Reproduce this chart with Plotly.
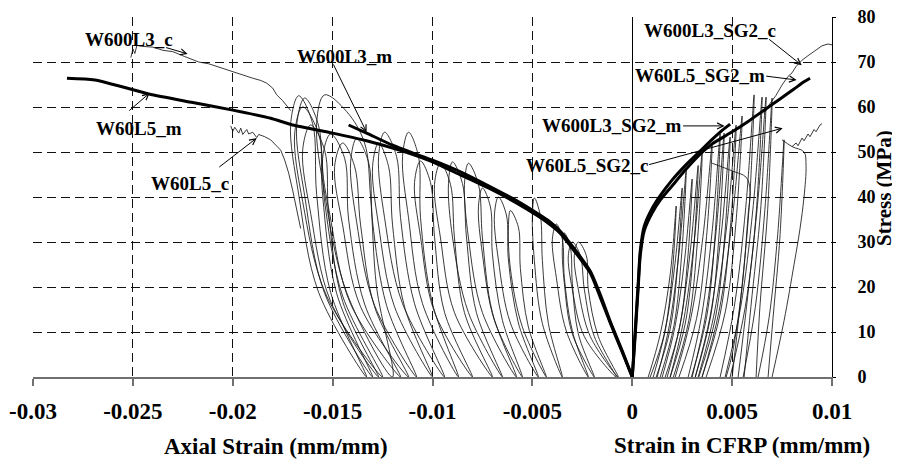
import plotly.graph_objects as go

# ---------------- data ----------------
X_TICKS = [-0.03, -0.025, -0.02, -0.015, -0.01, -0.005, 0, 0.005, 0.01]
X_TICK_TEXT = ["-0.03", "-0.025", "-0.02", "-0.015", "-0.01", "-0.005", "0", "0.005", "0.01"]
Y_TICKS = [0, 10, 20, 30, 40, 50, 60, 70, 80]

# thick monotonic curves
w60l5_m_x = [-0.0283, -0.0269, -0.0242, -0.0220, -0.0200, -0.0181, -0.0170, -0.0150, -0.0133, -0.0115,
             -0.0100, -0.0086, -0.0072, -0.0058, -0.0047, -0.0041, -0.0036, -0.0029, -0.0021, -0.0016,
             -0.0011, -0.0005, 0.0]
w60l5_m_y = [66.4, 66.0, 62.9, 61.0, 59.3, 57.5, 56.0, 54.2, 52.5, 50.2,
             47.8, 44.9, 42.0, 38.7, 35.7, 33.8, 31.9, 28.0, 23.1, 17.7,
             12.0, 5.5, 0.0]
w600l3_m_x = [-0.0142, -0.0133, -0.0120, -0.0110, -0.0100, -0.0086, -0.0072, -0.0058, -0.0047, -0.0041,
              -0.0036, -0.0029, -0.0021, -0.0016, -0.0011, -0.0005, 0.0]
w600l3_m_y = [56.0, 54.2, 51.5, 49.8, 48.2, 45.6, 42.5, 39.2, 36.2, 34.4,
              32.4, 28.5, 23.5, 18.3, 12.3, 5.8, 0.0]
w60l5_sg2_m_x = [0.0, 0.0001, 0.0002, 0.0003, 0.0004, 0.0006, 0.0010, 0.0014, 0.0020, 0.0027,
                 0.0034, 0.0040, 0.0049, 0.0058, 0.0066, 0.0074, 0.0081, 0.0086, 0.0089]
w60l5_sg2_m_y = [0.0, 6.0, 13.0, 20.0, 27.0, 32.5, 36.5, 39.3, 42.5, 46.2,
                 49.5, 51.8, 54.2, 56.8, 59.3, 61.8, 64.0, 65.6, 66.4]
w600l3_sg2_m_x = [0.0, 0.0001, 0.0002, 0.0003, 0.0004, 0.0006, 0.0010, 0.0014, 0.0020, 0.0027,
                  0.0034, 0.0040, 0.0045, 0.0049]
w600l3_sg2_m_y = [0.0, 7.0, 14.0, 21.0, 28.0, 33.5, 37.5, 40.3, 43.8, 47.2,
                  50.2, 52.8, 54.8, 56.2]

# thin (noisy) cyclic envelopes
w600l3_c_x = [-0.0251, -0.0250, -0.0249, -0.0248, -0.0246, -0.0240, -0.0235, -0.0230, -0.0224, -0.0217,
              -0.0212, -0.0208, -0.0204, -0.0200, -0.0195, -0.0190, -0.0186, -0.0183, -0.0180, -0.0178,
              -0.0175, -0.0173, -0.0171]
w600l3_c_y = [71.0, 72.9, 71.9, 73.7, 73.5, 73.3, 72.6, 72.3, 71.2, 70.0,
              69.6, 69.0, 68.5, 67.8, 67.2, 66.4, 65.9, 65.3, 64.2, 62.7,
              61.4, 60.4, 59.2]
w60l5_c_x = [-0.0201, -0.0200, -0.0199, -0.0197, -0.0196, -0.0195, -0.0193, -0.0192, -0.0190, -0.0188,
             -0.0187, -0.0184, -0.0181, -0.0178, -0.0176, -0.0174, -0.0172, -0.0170, -0.0168, -0.0166]
w60l5_c_y = [55.8, 54.6, 55.5, 54.2, 55.3, 53.9, 55.0, 54.0, 54.4, 53.2,
             53.9, 53.4, 52.7, 51.3, 50.4, 48.2, 45.3, 41.5, 37.5, 33.0]
w600l3_sg2_c_x = [0.0066, 0.0069, 0.0072, 0.0075, 0.0078, 0.0080, 0.0082, 0.0085, 0.0088, 0.0092,
                  0.0095, 0.0098, 0.0100]
w600l3_sg2_c_y = [58.5, 60.8, 62.6, 64.9, 66.8, 67.6, 69.0, 70.4, 71.4, 72.7,
                  73.6, 74.0, 73.8]
w60l5_sg2_c_x = [0.0080, 0.0082, 0.0083, 0.0085, 0.0086, 0.0088, 0.0089, 0.0091, 0.0092, 0.0094, 0.0095]
w60l5_sg2_c_y = [51.2, 52.0, 51.4, 53.1, 52.5, 54.0, 53.4, 55.0, 54.5, 56.0, 56.3]

# axial-strain unloading / reloading loops (left half)
left_loops_x = [
    [-0.0133, -0.0157, -0.0167, -0.0171, -0.0167, -0.0160, -0.0158, -0.0151, -0.0133],
    [-0.0130, -0.0154, -0.0164, -0.0168, -0.0164, -0.0157, -0.0155, -0.0148, -0.0130],
    [-0.0127, -0.0151, -0.0161, -0.0165, -0.0161, -0.0154, -0.0152, -0.0145, -0.0127],
    [-0.0120, -0.0143, -0.0154, -0.0158, -0.0154, -0.0143, -0.0134, -0.0131, -0.0128, -0.0120],
    [-0.0116, -0.0141, -0.0151, -0.0155, -0.0151, -0.0144, -0.0142, -0.0134, -0.0116],
    [-0.0108, -0.0129, -0.0138, -0.0141, -0.0138, -0.0132, -0.0130, -0.0123, -0.0108],
    [-0.0100, -0.0119, -0.0127, -0.0130, -0.0127, -0.0122, -0.0120, -0.0114, -0.0100],
    [-0.0094, -0.0115, -0.0124, -0.0127, -0.0124, -0.0118, -0.0116, -0.0109, -0.0094],
    [-0.0087, -0.0105, -0.0112, -0.0115, -0.0112, -0.0107, -0.0106, -0.0100, -0.0087],
    [-0.0080, -0.0099, -0.0106, -0.0109, -0.0106, -0.0101, -0.0099, -0.0094, -0.0080],
    [-0.0070, -0.0089, -0.0096, -0.0099, -0.0096, -0.0091, -0.0089, -0.0084, -0.0070],
    [-0.0065, -0.0082, -0.0090, -0.0092, -0.0090, -0.0085, -0.0083, -0.0078, -0.0065],
    [-0.0058, -0.0075, -0.0082, -0.0084, -0.0082, -0.0077, -0.0075, -0.0070, -0.0058],
    [-0.0047, -0.0061, -0.0067, -0.0069, -0.0067, -0.0063, -0.0062, -0.0057, -0.0047],
    [-0.0043, -0.0055, -0.0061, -0.0062, -0.0061, -0.0057, -0.0056, -0.0052, -0.0043],
    [-0.0035, -0.0045, -0.0049, -0.0050, -0.0049, -0.0046, -0.0045, -0.0042, -0.0035],
    [-0.0022, -0.0033, -0.0038, -0.0040, -0.0038, -0.0035, -0.0034, -0.0030, -0.0022],
    [-0.0019, -0.0030, -0.0034, -0.0035, -0.0034, -0.0031, -0.0030, -0.0027, -0.0019],
    [-0.0008, -0.0024, -0.0030, -0.0032, -0.0030, -0.0026, -0.0024, -0.0019, -0.0008],
    [-0.0125, -0.0153, -0.0165, -0.0169, -0.0165, -0.0157, -0.0154, -0.0145, -0.0125],
    [-0.0112, -0.0136, -0.0145, -0.0149, -0.0145, -0.0139, -0.0136, -0.0129, -0.0112],
    [-0.0055, -0.0069, -0.0075, -0.0077, -0.0075, -0.0071, -0.0070, -0.0065, -0.0055],
    [-0.0007, -0.0021, -0.0027, -0.0029, -0.0027, -0.0023, -0.0022, -0.0017, -0.0007],
]
left_loops_y = [
    [0, 18.8, 40.6, 56.3, 62.5, 56.3, 40.6, 18.8, 0],
    [0, 18.6, 40.3, 55.8, 62.0, 55.8, 40.3, 18.6, 0],
    [0, 16.8, 36.4, 50.4, 56.0, 50.4, 36.4, 16.8, 0],
    [0, 18.8, 40.8, 56.5, 62.7, 59.0, 52.0, 40.0, 20.0, 0],
    [0, 16.2, 35.1, 48.6, 54.0, 48.6, 35.1, 16.2, 0],
    [0, 15.9, 34.5, 47.7, 53.0, 47.7, 34.5, 15.9, 0],
    [0, 15.6, 33.8, 46.8, 52.0, 46.8, 33.8, 15.6, 0],
    [0, 16.3, 35.4, 49.0, 54.4, 49.0, 35.4, 16.3, 0],
    [0, 16.3, 35.4, 49.0, 54.4, 49.0, 35.4, 16.3, 0],
    [0, 14.4, 31.2, 43.2, 48.0, 43.2, 31.2, 14.4, 0],
    [0, 14.3, 30.9, 42.8, 47.5, 42.8, 30.9, 14.3, 0],
    [0, 14.3, 31.1, 43.0, 47.8, 43.0, 31.1, 14.3, 0],
    [0, 14.3, 30.9, 42.8, 47.5, 42.8, 30.9, 14.3, 0],
    [0, 12.0, 26.0, 36.0, 40.0, 36.0, 26.0, 12.0, 0],
    [0, 11.1, 24.1, 33.3, 37.0, 33.3, 24.1, 11.1, 0],
    [0, 11.9, 25.9, 35.8, 39.8, 35.8, 25.9, 11.9, 0],
    [0, 10.2, 22.1, 30.6, 34.0, 30.6, 22.1, 10.2, 0],
    [0, 9.6, 20.8, 28.8, 32.0, 28.8, 20.8, 9.6, 0],
    [0, 9.0, 19.5, 27.0, 30.0, 27.0, 19.5, 9.0, 0],
    [0, 18.0, 39.0, 54.0, 60.0, 54.0, 39.0, 18.0, 0],
    [0, 15.6, 33.8, 46.8, 52.0, 46.8, 33.8, 15.6, 0],
    [0, 12.6, 27.3, 37.8, 42.0, 37.8, 27.3, 12.6, 0],
    [0, 9.0, 19.5, 27.0, 30.0, 27.0, 19.5, 9.0, 0],
]

# CFRP-strain loops (right half)
right_loops_x = [
    [0.0008, 0.0014, 0.0019, 0.0022, 0.0020, 0.0016, 0.0009],
    [0.00105, 0.00166, 0.00214, 0.0025, 0.00228, 0.00189, 0.0012],
    [0.00125, 0.00186, 0.00234, 0.0027, 0.00248, 0.00209, 0.0014],
    [0.0015, 0.00213, 0.00263, 0.0030, 0.00278, 0.00237, 0.00165],
    [0.00175, 0.0024, 0.00291, 0.0033, 0.00307, 0.00265, 0.0019],
    [0.0019, 0.00257, 0.0031, 0.0035, 0.00326, 0.00283, 0.00206],
    [0.00215, 0.00293, 0.00354, 0.0040, 0.00372, 0.00322, 0.00234],
    [0.0028, 0.00347, 0.0040, 0.0044, 0.00416, 0.00373, 0.00296],
    [0.0030, 0.00367, 0.0042, 0.0046, 0.00436, 0.00393, 0.00316],
    [0.00315, 0.00389, 0.00446, 0.0049, 0.00464, 0.00417, 0.00333],
    [0.0033, 0.0041, 0.00473, 0.0052, 0.00492, 0.0044, 0.00349],
    [0.0035, 0.00434, 0.0050, 0.0055, 0.0052, 0.00466, 0.0037],
    [0.0044, 0.00511, 0.00568, 0.0061, 0.00585, 0.00539, 0.0050],
    [0.00465, 0.00543, 0.00604, 0.0065, 0.00622, 0.00572, 0.0053],
    [0.0049, 0.00566, 0.00625, 0.0067, 0.00643, 0.00594, 0.0056],
    [0.00555, 0.00616, 0.00664, 0.0070, 0.00678, 0.00639, 0.0062],
    [0.0063, 0.00685, 0.00728, 0.0076, 0.0074, 0.00705, 0.0068],
    [0.0070, 0.0076, 0.0081, 0.0084, 0.0086, 0.0087, 0.0086, 0.0080, 0.0075],
    [0.0040, 0.0050, 0.0057, 0.0059, 0.0058, 0.0055, 0.0050, 0.0047],
]
right_loops_y = [
    [0, 9.5, 22.8, 38.0, 22.8, 9.5, 0],
    [0, 10.5, 25.2, 42.0, 25.2, 10.5, 0],
    [0, 11.5, 27.6, 46.0, 27.6, 11.5, 0],
    [0, 11.0, 26.4, 44.0, 26.4, 11.0, 0],
    [0, 11.8, 28.2, 47.0, 28.2, 11.8, 0],
    [0, 12.5, 30.0, 50.0, 30.0, 12.5, 0],
    [0, 13.0, 31.2, 52.0, 31.2, 13.0, 0],
    [0, 13.5, 32.4, 54.0, 32.4, 13.5, 0],
    [0, 13.6, 32.5, 54.2, 32.5, 13.6, 0],
    [0, 13.3, 32.0, 53.3, 32.0, 13.3, 0],
    [0, 14.0, 33.6, 56.0, 33.6, 14.0, 0],
    [0, 14.5, 34.8, 58.0, 34.8, 14.5, 0],
    [0, 15.7, 37.6, 62.7, 37.6, 15.7, 0],
    [0, 15.6, 37.3, 62.2, 37.3, 15.6, 0],
    [0, 15.6, 37.3, 62.2, 37.3, 15.6, 0],
    [0, 15.5, 37.2, 62.0, 37.2, 15.5, 0],
    [0, 13.2, 31.6, 52.7, 31.6, 13.2, 0],
    [0, 12.5, 25.0, 33.0, 40.0, 47.0, 50.0, 51.2, 52.7],
    [47.5, 45.8, 44.4, 41.5, 36.0, 20.0, 5.0, 0],
]

# labels: (text, x, y) and arrows: (tail x, tail y, head x, head y)
label_text = ["W600L3_c", "W600L3_m", "W60L5_m", "W60L5_c",
              "W600L3_SG2_c", "W60L5_SG2_m", "W600L3_SG2_m", "W60L5_SG2_c"]
label_x = [-0.02521, -0.01441, -0.02471, -0.02216, 0.00388, 0.00338, -0.00103, -0.00226]
label_y = [74.9, 71.3, 55.3, 42.9, 77.1, 66.9, 55.8, 47.1]
arrow_tail_x = [-0.02341, -0.0150, -0.02526, -0.02075, 0.00678, 0.00663, 0.00247, 0.00077]
arrow_tail_y = [73.3, 69.8, 58.9, 46.4, 75.3, 66.9, 55.8, 47.1]
arrow_head_x = [-0.02226, -0.0133, -0.02416, -0.01880, 0.00848, 0.00823, 0.00462, 0.00753]
arrow_head_y = [71.8, 54.4, 63.1, 53.1, 69.3, 66.0, 55.8, 55.3]

# ---------------- figure ----------------
FONT = "Liberation Serif, Times New Roman, serif"
THIN = dict(color="#161616", width=0.85)
fig = go.Figure()

for lx, ly in zip(left_loops_x, left_loops_y):
    fig.add_trace(go.Scatter(x=lx, y=ly, mode="lines", line=dict(shape="spline", smoothing=1.0, **THIN),
                             hoverinfo="skip", showlegend=False))
for rx, ry in zip(right_loops_x, right_loops_y):
    fig.add_trace(go.Scatter(x=rx, y=ry, mode="lines", line=dict(shape="spline", smoothing=1.0, **THIN),
                             hoverinfo="skip", showlegend=False))

for cx, cy in [(w600l3_c_x, w600l3_c_y), (w60l5_c_x, w60l5_c_y),
               (w600l3_sg2_c_x, w600l3_sg2_c_y), (w60l5_sg2_c_x, w60l5_sg2_c_y)]:
    fig.add_trace(go.Scatter(x=cx, y=cy, mode="lines", line=THIN, hoverinfo="skip", showlegend=False))

for mx, my in [(w60l5_m_x, w60l5_m_y), (w600l3_m_x, w600l3_m_y),
               (w60l5_sg2_m_x, w60l5_sg2_m_y), (w600l3_sg2_m_x, w600l3_sg2_m_y)]:
    fig.add_trace(go.Scatter(x=mx, y=my, mode="lines",
                             line=dict(color="black", width=3, shape="spline", smoothing=0.6),
                             hoverinfo="skip", showlegend=False))

annotations = []
for t, x, y in zip(label_text, label_x, label_y):
    annotations.append(dict(x=x, y=y, xref="x", yref="y", text="<b>%s</b>" % t, showarrow=False,
                            xanchor="center", yanchor="middle",
                            font=dict(family=FONT, size=19, color="black")))
for tx, ty, hx, hy in zip(arrow_tail_x, arrow_tail_y, arrow_head_x, arrow_head_y):
    annotations.append(dict(x=hx, y=hy, ax=tx, ay=ty, xref="x", yref="y", axref="x", ayref="y",
                            text="", showarrow=True, arrowhead=5, arrowsize=1.2, arrowwidth=1,
                            arrowcolor="black", standoff=0, startstandoff=0))

annotations += [
    dict(x=0.304, y=-0.194, xref="paper", yref="paper", text="<b>Axial Strain (mm/mm)</b>",
         xanchor="center", yanchor="middle",
         showarrow=False, font=dict(family=FONT, size=23, color="black")),
    dict(x=0.887, y=-0.189, xref="paper", yref="paper", text="<b>Strain in CFRP (mm/mm)</b>",
         xanchor="center", yanchor="middle",
         showarrow=False, font=dict(family=FONT, size=23, color="black")),
    dict(x=1.065, y=0.525, xref="paper", yref="paper", text="<b>Stress (MPa)</b>", textangle=-90,
         xanchor="center", yanchor="middle",
         showarrow=False, font=dict(family=FONT, size=21, color="black")),
]

# the page body adds an 8px offset, so the figure is 8px smaller than the window
fig.update_layout(
    width=892, height=457,
    margin=dict(l=25, r=68, t=9, b=88, autoexpand=False),
    paper_bgcolor="white", plot_bgcolor="white",
    showlegend=False,
    annotations=annotations,
    xaxis=dict(range=[-0.03, 0.01], tickvals=X_TICKS, ticktext=X_TICK_TEXT, automargin=False,
               showgrid=True, gridcolor="#111111", gridwidth=1, griddash="9px,5px",
               zeroline=True, zerolinecolor="black", zerolinewidth=1,
               showline=True, linecolor="#707070", linewidth=1.5,
               ticks="outside", ticklen=7, tickcolor="#707070", tickwidth=1.5,
               ticklabelstandoff=6, ticklabeloverflow="allow",
               tickfont=dict(family=FONT, size=23, color="black", weight="bold")),
    yaxis=dict(range=[0, 80], tickvals=Y_TICKS, side="right", automargin=False,
               showgrid=True, gridcolor="#111111", gridwidth=1, griddash="9px,5px",
               zeroline=False,
               showline=True, linecolor="black", linewidth=1,
               ticks="outside", ticklen=3, tickcolor="black",
               ticklabelstandoff=18, ticklabeloverflow="allow",
               tickfont=dict(family=FONT, size=18, color="black", weight="bold")),
)

fig.write_html("out.html")
